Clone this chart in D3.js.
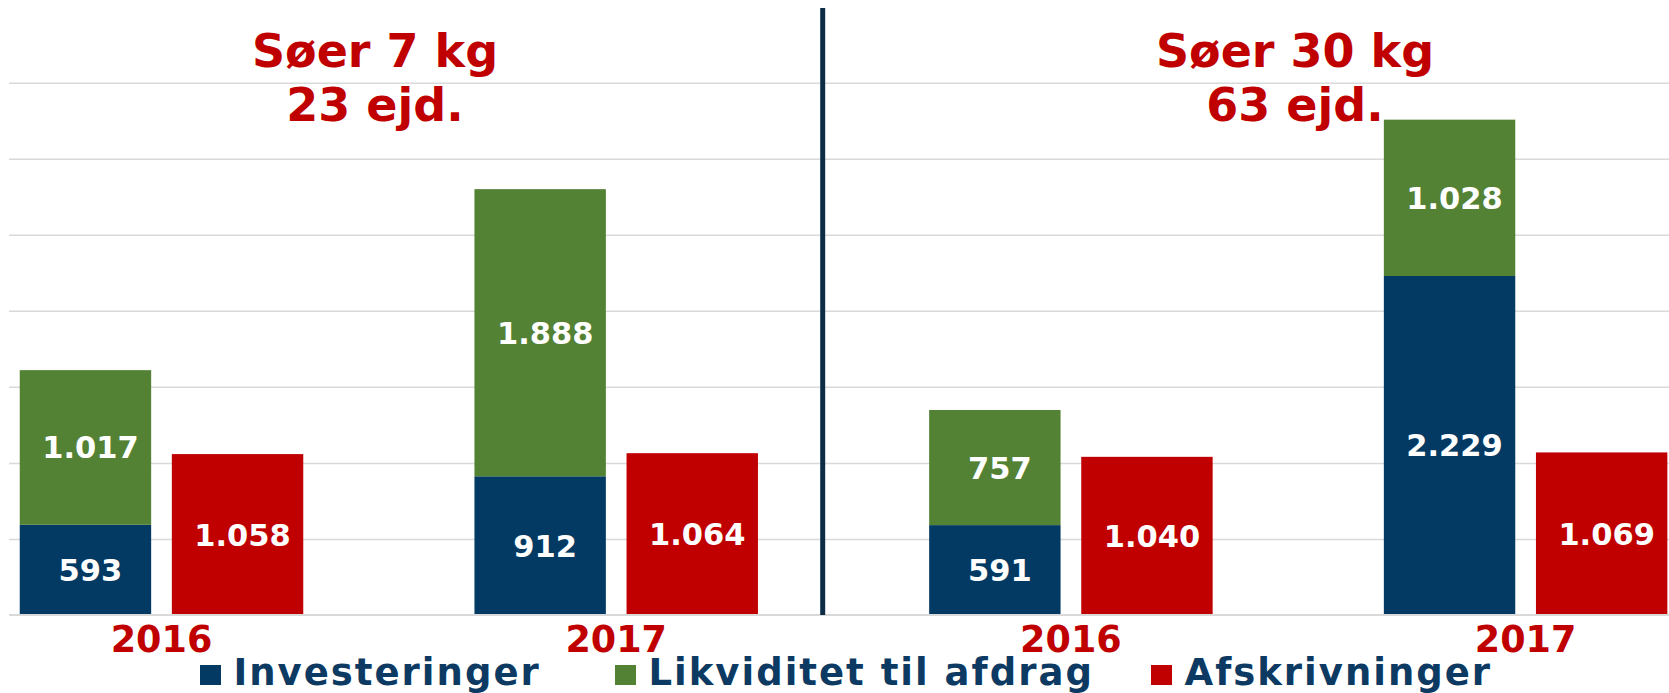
<!DOCTYPE html>
<html>
<head>
<meta charset="utf-8">
<script src="https://cdn.jsdelivr.net/npm/d3@7"></script>
<style>
  html, body { margin: 0; padding: 0; background: #fff; }
  svg { display: block; font-family: "DejaVu Sans", Verdana, sans-serif; font-weight: bold; }
</style>
</head>
<body>
<svg id="chart"></svg>
<script>
// data
var groups = ["7kg-2016", "7kg-2017", "30kg-2016", "30kg-2017"];
var years = ["2016", "2017", "2016", "2017"];
var investeringer = [593, 912, 591, 2229];
var likviditet = [1017, 1888, 757, 1028];
var afskrivninger = [1058, 1064, 1040, 1069];
var panelTitles = [["Søer 7 kg", "23 ejd."], ["Søer 30 kg", "63 ejd."]];
var legendLabels = ["Investeringer", "Likviditet til afdrag", "Afskrivninger"];
var gridTicks = [500, 1000, 1500, 2000, 2500, 3000, 3500];

var width = 1669,
    height = 693;

var colBlue = "#033a63",
    colGreen = "#548235",
    colRed = "#c00000",
    colText = "#0d3a62";

var svg = d3.select("#chart")
    .attr("width", width)
    .attr("height", height);

var y = d3.scaleLinear()
    .domain([0, 3500])
    .range([615, 82.7]);

// the chart is cropped on the left, so the band range starts off screen
var x0 = d3.scaleBand()
    .domain(groups)
    .range([-65.85, 1752.95])
    .paddingInner(0.3765)
    .paddingOuter(0.18825);

var x1 = d3.scaleBand()
    .domain(["stack", "red"])
    .range([0, x0.bandwidth()])
    .paddingInner(0.136);

var fmt = d3.formatLocale({decimal: ",", thousands: ".", grouping: [3], currency: ["", " kr"]}).format(",");

// gridlines
var grid = svg.append("g")
    .attr("transform", "translate(9,0)")
    .call(d3.axisLeft(y).tickValues(gridTicks).tickSize(-(width - 9)).tickFormat(""));
grid.select(".domain").remove();
grid.selectAll("line").attr("stroke", "#d9d9d9").attr("stroke-width", 1.5);

// stacked data
var rows = groups.map(function(g, i) {
  return {group: g, inv: investeringer[i], lik: likviditet[i], afs: afskrivninger[i]};
});
var stack = d3.stack().keys(["inv", "lik"]);
var series = stack(rows);
var stackColors = {inv: colBlue, lik: colGreen};

var bars = svg.append("g");

series.forEach(function(s) {
  bars.selectAll(".seg-" + s.key)
    .data(s)
    .enter().append("rect")
      .attr("x", function(d) { return x0(d.data.group) + x1("stack"); })
      .attr("y", function(d) { return y(d[1]); })
      .attr("width", x1.bandwidth())
      .attr("height", function(d) { return y(d[0]) - y(d[1]); })
      .attr("fill", stackColors[s.key]);

  bars.selectAll(".lab-" + s.key)
    .data(s)
    .enter().append("text")
      .attr("x", function(d) { return x0(d.data.group) + x1("stack") + x1.bandwidth() / 2 + 5; })
      .attr("y", function(d) { return (y(d[0]) + y(d[1])) / 2; })
      .attr("dy", "0.36em")
      .attr("text-anchor", "middle")
      .attr("fill", "#fff")
      .style("font-size", "30.5px")
      .text(function(d) { return fmt(d.data[s.key]); });
});

bars.selectAll(".afs")
  .data(rows)
  .enter().append("rect")
    .attr("x", function(d) { return x0(d.group) + x1("red"); })
    .attr("y", function(d) { return y(d.afs); })
    .attr("width", x1.bandwidth())
    .attr("height", function(d) { return y(0) - y(d.afs); })
    .attr("fill", colRed);

bars.selectAll(".afs-lab")
  .data(rows)
  .enter().append("text")
    .attr("x", function(d) { return x0(d.group) + x1("red") + x1.bandwidth() / 2 + 5; })
    .attr("y", function(d) { return (y(0) + y(d.afs)) / 2; })
    .attr("dy", "0.36em")
    .attr("text-anchor", "middle")
    .attr("fill", "#fff")
    .style("font-size", "30.5px")
    .text(function(d) { return fmt(d.afs); });

// baseline
svg.append("line")
  .attr("x1", 9).attr("x2", width)
  .attr("y1", y(0)).attr("y2", y(0))
  .attr("stroke", "#d9d9d9").attr("stroke-width", 2);

// year labels
svg.append("g").selectAll("text")
  .data(groups)
  .enter().append("text")
    .attr("x", function(d) { return x0(d) + x0.bandwidth() / 2; })
    .attr("y", 651.5)
    .attr("text-anchor", "middle")
    .attr("fill", colRed)
    .style("font-size", "36.5px")
    .text(function(d, i) { return years[i]; });

// divider between the two panels
svg.append("line")
  .attr("x1", 822.7).attr("x2", 822.7)
  .attr("y1", 8).attr("y2", 615)
  .attr("stroke", "#0c2c48")
  .attr("stroke-width", 5);

// panel titles
var titleX = [375, 1295];
panelTitles.forEach(function(t, i) {
  var tt = svg.append("text")
    .attr("text-anchor", "middle")
    .attr("fill", colRed)
    .style("font-size", "46px");
  tt.append("tspan").attr("x", titleX[i]).attr("y", 66.5).text(t[0]);
  tt.append("tspan").attr("x", titleX[i]).attr("y", 120.5).text(t[1]);
});

// legend
var legendX = [200, 615, 1151];
var legendColors = [colBlue, colGreen, colRed];
var legend = svg.append("g").selectAll("g")
  .data(legendLabels)
  .enter().append("g")
    .attr("transform", function(d, i) { return "translate(" + legendX[i] + ",0)"; });

legend.append("rect")
  .attr("x", 0).attr("y", 665)
  .attr("width", 21).attr("height", 20)
  .attr("fill", function(d, i) { return legendColors[i]; });

legend.append("text")
  .attr("x", 33.5)
  .attr("y", 685)
  .attr("fill", colText)
  .style("font-size", "37px")
  .style("letter-spacing", "2px")
  .text(function(d) { return d; });
</script>
</body>
</html>
